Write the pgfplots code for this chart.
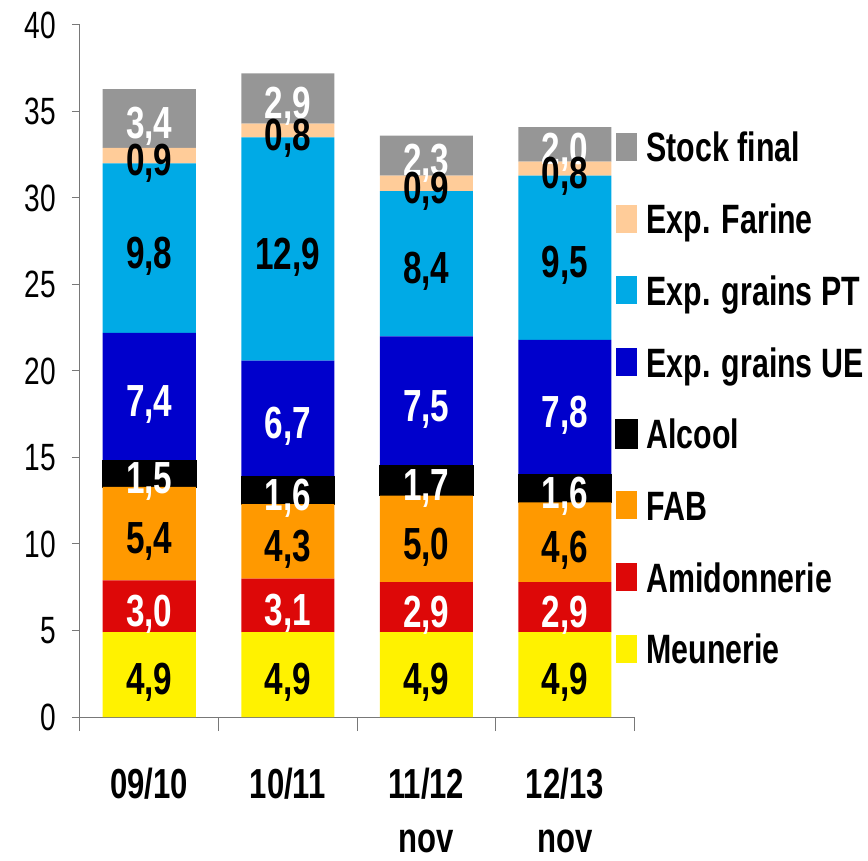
\documentclass[border=0pt]{standalone}
\usepackage{fontspec}
\setmainfont{Liberation Sans}[FakeStretch=0.74]
\usepackage{pgfplots}
\pgfplotsset{compat=1.18}
\definecolor{cStock}{RGB}{150,150,150}
\definecolor{cFarine}{RGB}{255,204,153}
\definecolor{cPT}{RGB}{0,170,230}
\definecolor{cUE}{RGB}{0,0,204}
\definecolor{cAlc}{RGB}{0,0,0}
\definecolor{cFAB}{RGB}{255,153,0}
\definecolor{cAmi}{RGB}{221,8,8}
\definecolor{cMeu}{RGB}{255,242,0}
\definecolor{axgray}{RGB}{120,120,120}
\pgfplotsset{
  leg/.style={legend image code/.code={\fill[##1] (0pt,-14pt) rectangle (21pt,14pt);}},
  wlab/.style={every node near coord/.append style={text=white}},
}
\begin{document}
\begin{tikzpicture}[x=1pt,y=1pt]
\useasboundingbox (0,0) rectangle (868,860);
\begin{axis}[
  at={(80pt,143pt)}, anchor=south west,
  scale only axis, width=554pt, height=692pt,
  ybar stacked, bar width=93pt,
  xmin=-0.5, xmax=3.5, ymin=0, ymax=40,
  clip=false,
  axis lines*=left,
  axis line style={axgray, line width=1pt},
  tick align=outside,
  major tick length=8pt,
  ytick={0,5,...,40},
  ytick style={axgray, line width=1pt},
  /pgf/number format/assume math mode=true,
  yticklabel style={font=\fontsize{38}{38}\selectfont, inner sep=0pt, anchor=east, xshift=-16pt},
  xtick={0,1,2,3},
  xticklabels={09/10,10/11,{11/12\\nov},{12/13\\nov}},
  xtick style={draw=none},
  xticklabel style={font=\fontsize{42}{54}\selectfont\bfseries, align=center, anchor=north, inner sep=0pt, yshift=-43pt},
  extra x ticks={-0.5,0.5,1.5,2.5,3.5},
  extra x tick labels={},
  extra x tick style={xtick style={draw=axgray, line width=1pt}, major tick length=14pt},
  visualization depends on={rawy \as \rawy},
  nodes near coords={\pgfmathprintnumber[fixed,fixed zerofill,precision=1,use comma,assume math mode=true]{\rawy}},
  nodes near coords align={center},
  every node near coord/.append style={font=\fontsize{45}{45}\selectfont\bfseries, inner sep=0pt, yshift=-8pt},
  reverse legend,
  legend cell align=left,
  legend style={draw=none, fill=none, at={(0.9657,0.8454)}, anchor=north west,
    inner sep=0pt, outer sep=0pt, row sep=41.7pt, column sep=9pt,
    font=\fontsize{41}{41}\selectfont\bfseries,
    nodes={inner sep=0pt, text height=30pt, text depth=0pt}},
]
\addplot[fill=cMeu, draw=none, leg] coordinates {(0,4.9) (1,4.9) (2,4.9) (3,4.9)};
\addlegendentry{Meunerie}
\addplot[fill=cAmi, draw=none, leg, wlab] coordinates {(0,3.0) (1,3.1) (2,2.9) (3,2.9)};
\addlegendentry{Amidonnerie}
\addplot[fill=cFAB, draw=none, leg] coordinates {(0,5.4) (1,4.3) (2,5.0) (3,4.6)};
\addlegendentry{FAB}
\addplot[fill=cAlc, draw=black, line width=1.5pt, leg, wlab] coordinates {(0,1.5) (1,1.6) (2,1.7) (3,1.6)};
\addlegendentry{Alcool}
\addplot[fill=cUE, draw=none, leg, wlab] coordinates {(0,7.4) (1,6.7) (2,7.5) (3,7.8)};
\addlegendentry{Exp. grains UE}
\addplot[fill=cPT, draw=none, leg] coordinates {(0,9.8) (1,12.9) (2,8.4) (3,9.5)};
\addlegendentry{Exp. grains PT}
\addplot[fill=cFarine, draw=none, leg] coordinates {(0,0.9) (1,0.8) (2,0.9) (3,0.8)};
\addlegendentry{Exp. Farine}
\addplot[fill=cStock, draw=none, leg, wlab] coordinates {(0,3.4) (1,2.9) (2,2.3) (3,2.0)};
\addlegendentry{Stock final}
\end{axis}
\end{tikzpicture}
\end{document}
